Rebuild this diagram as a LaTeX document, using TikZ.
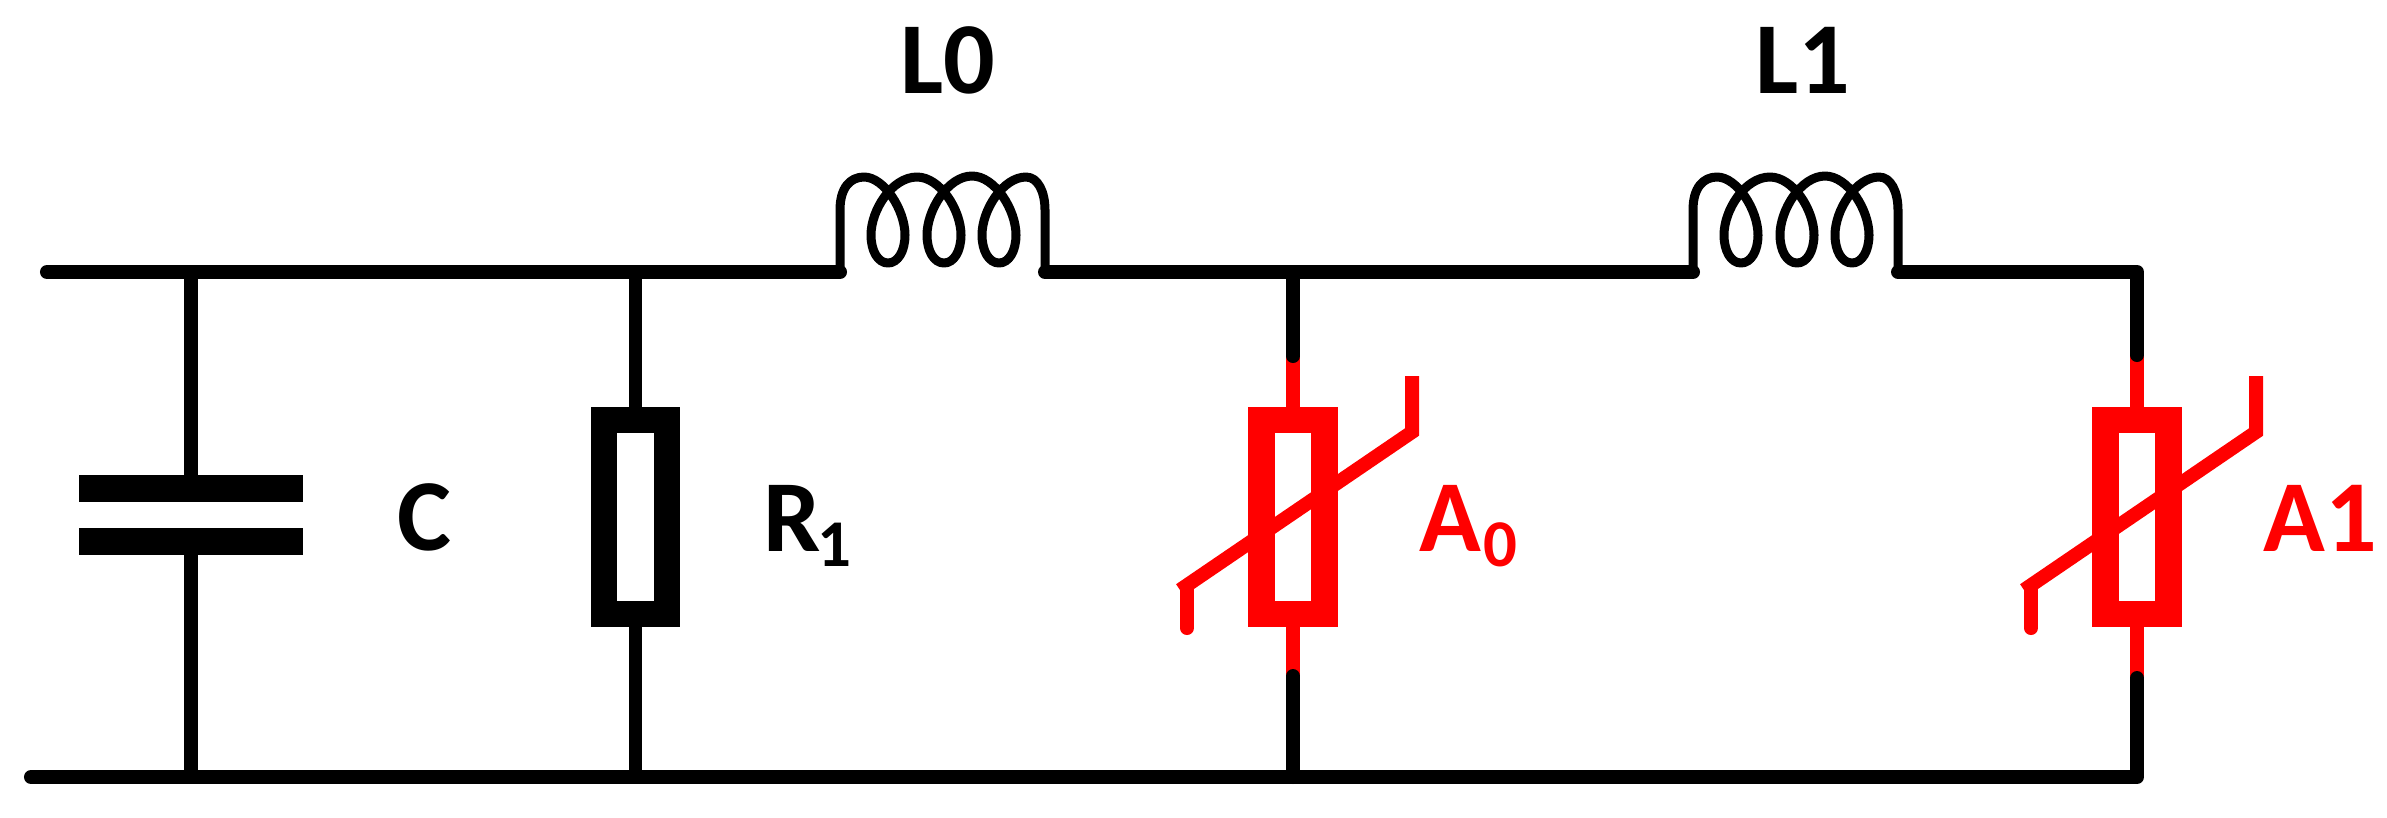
\documentclass[tikz,border=0pt]{standalone}
\usepackage{fontspec}
\setmainfont{Carlito}
\usepackage{tikz}

\definecolor{arrester}{RGB}{255,0,0}
\newcommand{\lowidx}[1]{\raisebox{-0.15cm}{\fontsize{19}{20}\selectfont #1}}

% one reference pixel is 0.01cm
\tikzset{
  wire/.style = {line width=0.14cm, line cap=round, line join=round},
  lead/.style = {line width=0.135cm},
  coilwire/.style = {line width=0.09cm, line join=round},
  plate/.style = {draw=none, fill=black, minimum width=2.24cm, minimum height=0.27cm, inner sep=0pt, outer sep=0pt},
  body/.style = {draw, line width=0.265cm, fill=white, minimum width=0.63cm, minimum height=1.94cm, inner sep=0pt, outer sep=0pt},
  slope/.style = {line width=0.14cm, arrester, line join=miter},
  label/.style = {font=\bfseries\fontsize{29}{32}\selectfont, inner sep=0pt},
}

\begin{document}
\begin{tikzpicture}[x=0.01cm, y=-0.01cm]
\useasboundingbox (0,0) rectangle (2387,817);

\coordinate (topa) at (47,272);
\coordinate (bota) at (31,777);
\coordinate (corner) at (2137,272);
\coordinate (botb) at (2137,777);

% inductors
\coordinate (l0in) at (840,272);
\coordinate (l0out) at (1045,272);
\coordinate (l1in) at (1693,272);
\coordinate (l1out) at (1898,272);
\foreach \dx in {0,853} {
  \begin{scope}[xshift=\dx*0.01cm]
  \draw[coilwire] (840,272) -- (840,210)
    .. controls (840,188) and (850,177) .. (864,177)
    .. controls (884,177) and (905,210) .. (905,235)
    .. controls (905,251) and (898,263) .. (888,263)
    .. controls (878,263) and (871,251) .. (871,235)
    .. controls (871,210) and (892,177) .. (917,177)
    .. controls (940,177) and (961,210) .. (961,235)
    .. controls (961,251) and (954,263) .. (944,263)
    .. controls (934,263) and (927,251) .. (927,235)
    .. controls (927,210) and (948,176) .. (972,176)
    .. controls (995,176) and (1016,210) .. (1016,235)
    .. controls (1016,251) and (1009,263) .. (999,263)
    .. controls (989,263) and (982,251) .. (982,235)
    .. controls (982,210) and (1003,177) .. (1026,177)
    .. controls (1038,177) and (1045,192) .. (1045,210)
    -- (1045,272);
  \end{scope}
}

% capacitor and resistor
\node[plate] (c1) at (191,488.5) {};
\node[plate] (c2) at (191,541.5) {};
\node[body] (r1) at (635.5,517) {};

% arresters
\coordinate (a0top) at (1293,356);
\coordinate (a0bot) at (1293,676);
\coordinate (a1top) at (2137,355);
\coordinate (a1bot) at (2137,678);
\draw[lead, arrester] (a0top) -- (1293,517) -- (1293,680);
\draw[lead, arrester] (a1top) -- (2137,517) -- (2137,680);
\node[body, draw=arrester] (a0) at (1293,517) {};
\node[body, draw=arrester] (a1) at (2137,517) {};
\foreach \dx in {0,844} {
  \draw[slope, xshift=\dx*0.01cm] (1412,376) -- (1412,432) -- (1180,590);
  \draw[slope, line cap=round, xshift=\dx*0.01cm] (1187,587) -- (1187,628);
}

% wires
\draw[wire] (topa) -- (l0in);
\draw[wire] (l0out) -- (l1in);
\draw[wire] (l1out) -- (corner) -- (a1top);
\draw[wire] (a1bot) -- (botb) -- (bota);
\draw[lead] (191,272) -- (c1.north);
\draw[lead] (c2.south) -- (191,777);
\draw[lead] (635.5,272) -- (r1.north);
\draw[lead] (r1.south) -- (635.5,777);
\draw[wire] (1293,272) -- (a0top);
\draw[wire] (a0bot) -- (1293,777);

% labels
\node[label, anchor=base west] (l0) at (900,93) {L0};
\node[label, anchor=base west] (l1) at (1755,93) {L1};
\node[label, anchor=base west] (cap) at (397,550) {C};
\node[label, anchor=base west] (r1lab) at (763,551) {R\kern-0.04cm\lowidx{1}};
\node[label, anchor=base west, text=arrester] (a0lab) at (1419,551) {A\kern0.02cm\lowidx{0}};
\node[label, anchor=base west, text=arrester] (a1lab) at (2263,551) {A1};
\end{tikzpicture}
\end{document}
